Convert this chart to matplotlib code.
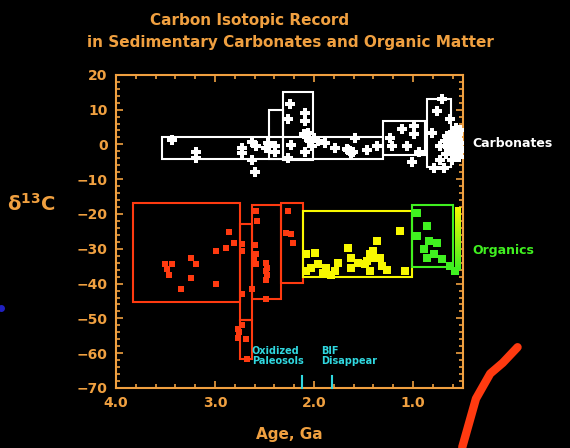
import numpy as np
import matplotlib
matplotlib.use("Agg")
import matplotlib.pyplot as plt
from matplotlib.patches import Rectangle

# ---- data (age in Ga, delta13C in permil) ----
carb_age = [3.43, 3.19, 3.19, 2.73, 2.73, 2.63, 2.60, 2.63, 2.59, 2.49, 2.46, 2.39, 2.39,
            2.24, 2.26, 2.09, 2.09, 2.06, 2.04, 2.09, 2.23, 2.26, 1.96, 1.89, 1.79, 1.66,
            1.61, 1.59, 1.46, 1.36, 1.23, 1.21, 1.11, 0.99, 0.99, 1.06, 0.94, 1.01, 0.71,
            0.76, 0.81, 0.73, 0.73, 0.63, 0.79, 0.69, 0.66, 0.62, 0.58, 0.55, 0.60, 0.57,
            0.64, 0.53, 0.56, 0.68, 0.61, 0.54, 2.02, 2.00, 1.67, 1.63, 0.52, 0.59, 0.65,
            0.57, 0.54, 0.62, 0.67, 0.60, 0.55, 0.52, 2.05, 2.10, 1.64]
carb_d13c = [1.4, -2.1, -3.8, -1.0, -2.5, -4.5, -7.9, 0.8, -0.6, -1.0, 0.5, -0.6, -2.1,
             11.6, 7.2, 9.1, 6.7, 3.4, 0.9, -2.1, -0.1, -3.8, 0.9, 0.5, -1.0, -1.5,
             -2.1, 1.9, -1.5, -0.6, 1.9, -0.6, 4.3, 5.2, 2.9, -0.6, -2.1, -5.0, 13.0,
             9.5, 3.4, -0.6, -4.4, 7.2, -6.8, -6.8, 2.5, 0.5, -1.5, 1.0, 3.5, -3.0,
             -2.0, 4.0, 2.0, 1.0, -4.5, -1.0, -0.5, 1.8, -1.2, -2.6, -1.8, 1.5, -0.8,
             4.8, -3.5, 2.2, -2.8, -0.2, 3.0, 0.5, 1.2, 3.0, -1.8]

red_age = [3.51, 3.48, 3.46, 3.43, 3.24, 3.19, 3.24, 3.34, 2.99, 2.99, 2.89, 2.86, 2.81,
           2.73, 2.73, 2.59, 2.58, 2.59, 2.59, 2.49, 2.49, 2.49, 2.63, 2.49, 2.73, 2.76,
           2.73, 2.69, 2.68, 2.26, 2.28, 2.23, 2.21, 2.60, 2.61, 2.47, 2.47, 2.77, 2.77]
red_d13c = [-34.3, -35.7, -37.5, -34.3, -32.7, -34.5, -38.5, -41.5, -40.0, -30.6, -29.7,
            -25.3, -28.3, -28.7, -30.6, -19.0, -22.0, -31.5, -34.4, -34.0, -36.5, -39.0,
            -41.5, -44.4, -43.0, -54.0, -52.0, -56.0, -61.7, -19.0, -25.4, -25.7, -28.3,
            -29.0, -33.0, -35.5, -37.5, -53.0, -55.5]

yel_age = [2.08, 1.99, 2.08, 1.96, 1.88, 1.79, 1.76, 1.66, 1.63, 1.56, 1.49, 1.43, 1.36,
           1.39, 1.33, 1.31, 1.26, 1.13, 1.08, 1.83, 2.03, 1.43, 1.63, 1.91, 1.40, 1.46]
yel_d13c = [-31.6, -31.2, -36.5, -34.5, -35.5, -36.5, -34.2, -29.8, -32.6, -34.2, -34.5,
            -31.6, -27.7, -32.6, -32.6, -35.0, -36.0, -24.8, -36.5, -37.5, -35.5, -36.5,
            -35.5, -37.0, -30.5, -33.5]

grn_age = [0.96, 0.86, 0.96, 0.84, 0.76, 0.89, 0.79, 0.86, 0.71, 0.63, 0.58]
grn_d13c = [-19.7, -23.4, -26.3, -27.7, -28.3, -30.0, -31.6, -32.6, -33.0, -35.0, -36.5]

# range boxes: (old age, young age, low d13C, high d13C)
carb_boxes = [(3.54, 1.30, -4.2, 2.2), (2.45, 2.31, -4.2, 9.8), (2.31, 2.01, -4.5, 15.1),
              (1.30, 0.88, -3.0, 6.6), (0.86, 0.62, -6.5, 13.0)]
red_boxes = [(3.83, 2.75, -45.3, -16.7), (2.75, 2.63, -50.6, -22.8), (2.75, 2.63, -61.8, -50.6),
             (2.63, 2.33, -44.4, -17.3), (2.33, 2.11, -39.7, -16.7)]
yel_boxes = [(2.11, 1.01, -38.0, -19.0)]
grn_boxes = [(1.01, 0.60, -35.3, -17.3)]

event_ages = [2.12, 1.82]
event_labels = ["Oxidized\nPaleosols", "BIF\nDisappear"]
event_label_ages = [2.63, 1.93]

# pen stroke drawn over the slide (figure fraction)
stroke_x = [0.811, 0.835, 0.860, 0.882, 0.908]
stroke_y = [0.002, 0.110, 0.166, 0.190, 0.225]

ORANGE = "#f0a040"
RED = "#ff3a10"
YEL = "#f8f800"
GRN = "#40f020"
CYAN = "#30d8e0"

fig = plt.figure(figsize=(5.7, 4.48), dpi=100, facecolor="black")
ax = fig.add_axes([0.2035, 0.134, 0.608, 0.699], facecolor="black")

for boxes, col in [(carb_boxes, "white"), (red_boxes, RED), (yel_boxes, YEL), (grn_boxes, GRN)]:
    for a0, a1, lo, hi in boxes:
        ax.add_patch(Rectangle((a1, lo), a0 - a1, hi - lo, fill=False, ec=col, lw=1.5, zorder=2))

ax.scatter(carb_age, carb_d13c, marker="P", s=45, c="white", lw=0, zorder=3)
ax.scatter(red_age, red_d13c, marker="s", s=24, c=RED, lw=0, zorder=3)
ax.scatter(yel_age, yel_d13c, marker="s", s=28, c=YEL, lw=0, zorder=3)
ax.scatter(grn_age, grn_d13c, marker="s", s=26, c=GRN, lw=0, zorder=3)

# yellow-green streak at the young end of the organic record
grad = np.linspace(0, 1, 50).reshape(-1, 1)
ax.imshow(grad, cmap=matplotlib.colors.LinearSegmentedColormap.from_list("yg", [YEL, GRN]),
          extent=(0.58, 0.52, -36, -18), aspect="auto", zorder=2)

for a in event_ages:
    ax.plot([a, a], [-70, -66.5], color=CYAN, lw=1.5, zorder=4, clip_on=False)
for a, lab in zip(event_label_ages, event_labels):
    ax.text(a, -60.7, lab, color=CYAN, fontsize=7, fontweight="bold",
            ha="left", va="center", linespacing=1.0)

ax.set_xlim(4.0, 0.5)
ax.set_ylim(-70, 20)
ax.set_xticks([4.0, 3.0, 2.0, 1.0])
ax.set_xticklabels(["4.0", "3.0", "2.0", "1.0"])
ax.set_xticks(np.arange(0.6, 4.0, 0.2), minor=True)
ax.set_yticks(np.arange(-70, 21, 10))
ax.set_yticks(np.arange(-70, 21, 2), minor=True)
for s in ax.spines.values():
    s.set_color(ORANGE)
    s.set_linewidth(1.5)
ax.tick_params(which="both", direction="in", top=True, right=True, color=ORANGE,
               labelcolor=ORANGE, labelsize=10, width=1.2)
ax.tick_params(which="major", length=5, pad=6)
ax.tick_params(which="minor", length=3)
for lab in ax.get_xticklabels() + ax.get_yticklabels():
    lab.set_fontweight("bold")

ax.set_xlabel("Age, Ga", color=ORANGE, fontsize=11, fontweight="bold", labelpad=12)
fig.text(0.055, 0.545, r"$\mathregular{\delta^{13}}$C", color=ORANGE, fontsize=14,
         fontweight="bold", ha="center", va="center")

fig.text(0.437, 0.955, "Carbon Isotopic Record", color=ORANGE, fontsize=11,
         fontweight="bold", ha="center", va="center")
fig.text(0.51, 0.905, "in Sedimentary Carbonates and Organic Matter", color=ORANGE,
         fontsize=11, fontweight="bold", ha="center", va="center")

fig.text(0.828, 0.68, "Carbonates", color="white", fontsize=9, fontweight="bold",
         ha="left", va="center")
fig.text(0.828, 0.44, "Organics", color=GRN, fontsize=9, fontweight="bold",
         ha="left", va="center")

fig.add_artist(plt.Line2D(stroke_x, stroke_y, color=RED, lw=6, solid_capstyle="round"))
fig.add_artist(plt.Line2D([0.001], [0.312], marker="o", ms=4, color="#2020c0"))

fig.savefig("out.png", dpi=100, facecolor="black")
